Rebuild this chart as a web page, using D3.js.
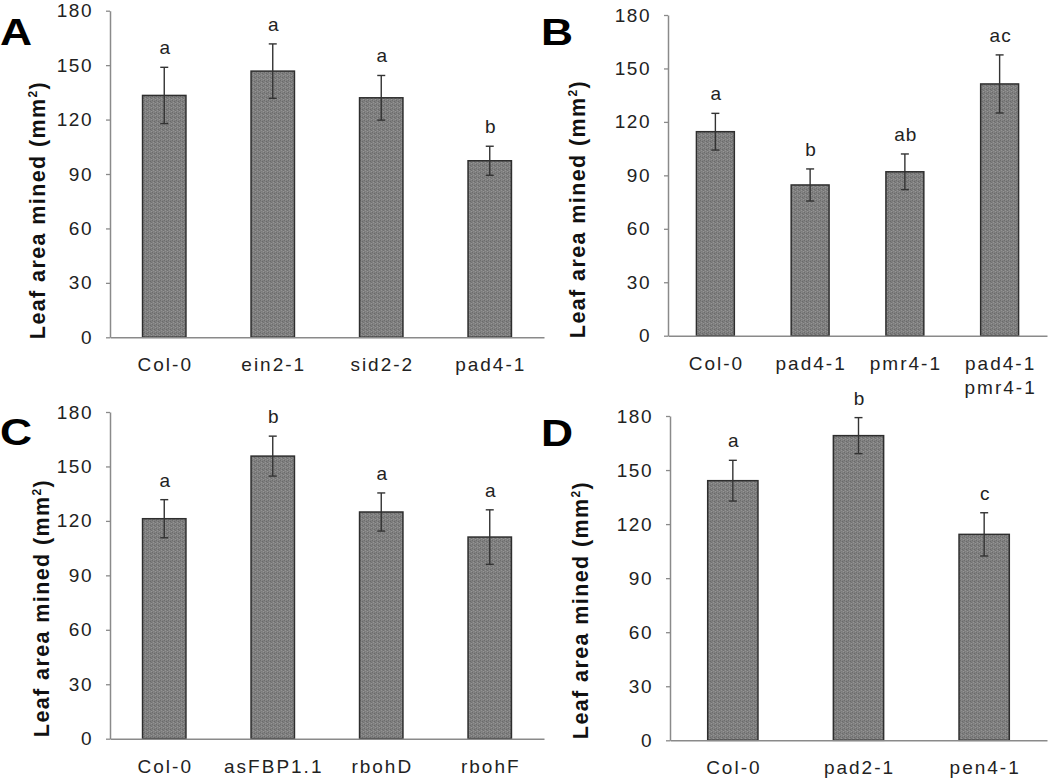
<!DOCTYPE html>
<html><head><meta charset="utf-8">
<script src="https://cdn.jsdelivr.net/npm/d3@7"></script>
<style>
html,body{margin:0;padding:0;background:#fff;}
svg{display:block;}
text{font-family:"Liberation Sans",Arial,sans-serif;}
</style></head>
<body>
<svg id="chart" width="1050" height="783"></svg>
<script>
// ---- data ----
const yTicks = [0, 30, 60, 90, 120, 150, 180];
const yLabel = "Leaf area mined (mm";

const catsA = ["Col-0", "ein2-1", "sid2-2", "pad4-1"];
const valsA = [133.3, 146.7, 132.0, 97.3];
const errsA = [15.5, 15.0, 12.3, 8.0];
const letsA = ["a", "a", "a", "b"];

const catsB = ["Col-0", "pad4-1", "pmr4-1", "pad4-1\npmr4-1"];
const valsB = [114.5, 84.6, 92.0, 141.3];
const errsB = [10.3, 9.0, 10.0, 16.3];
const letsB = ["a", "b", "ab", "ac"];

const catsC = ["Col-0", "asFBP1.1", "rbohD", "rbohF"];
const valsC = [121.2, 155.7, 124.9, 111.1];
const errsC = [10.5, 11.0, 10.5, 15.0];
const letsC = ["a", "b", "a", "a"];

const catsD = ["Col-0", "pad2-1", "pen4-1"];
const valsD = [144.1, 169.1, 114.3];
const errsD = [11.3, 10.0, 12.0];
const letsD = ["a", "b", "c"];

// ---- layout ----
const svg = d3.select("#chart");
const defs = svg.append("defs");
const pat = defs.append("pattern").attr("id", "tex").attr("width", 4).attr("height", 4)
  .attr("patternUnits", "userSpaceOnUse");
pat.append("rect").attr("width", 4).attr("height", 4).attr("fill", "#7f7f7f");
[[0,0,"#6c6c6c"],[2,1,"#6a6a6a"],[1,2,"#949494"],[3,3,"#969696"],[1,0,"#8a8a8a"],[3,2,"#717171"]]
  .forEach(([x,y,c]) => pat.append("rect").attr("x", x).attr("y", y).attr("width", 1).attr("height", 1).attr("fill", c));

const panels = [
  {tag:"A", cats:catsA, vals:valsA, errs:errsA, lets:letsA, left:110, right:544, top:10.7, bottom:337.3, tagX:0, tagY:45, labX:45, labY:210},
  {tag:"B", cats:catsB, vals:valsB, errs:errsB, lets:letsB, left:668, right:1047, top:15, bottom:335.7, tagX:541, tagY:45, labX:585, labY:209},
  {tag:"C", cats:catsC, vals:valsC, errs:errsC, lets:letsC, left:110, right:544, top:412, bottom:738.7, tagX:0, tagY:445, labX:49, labY:608},
  {tag:"D", cats:catsD, vals:valsD, errs:errsD, lets:letsD, left:670, right:1047, top:416, bottom:740.3, tagX:541, tagY:446, labX:588, labY:610}
];

panels.forEach(p => {
  const g = svg.append("g");
  const y = d3.scaleLinear().domain([0, 180]).range([p.bottom, p.top]);
  const x = d3.scaleBand().domain(p.cats).range([p.left, p.right]).paddingInner(0.6).paddingOuter(0.3);

  // y axis
  const ya = g.append("g").attr("transform", `translate(${p.left},0)`)
    .call(d3.axisLeft(y).tickValues(yTicks).tickSize(4).tickSizeOuter(0).tickPadding(13));
  ya.select(".domain").attr("stroke", "#8a8a8a").attr("stroke-width", 1.5);
  ya.selectAll(".tick line").attr("stroke", "#8a8a8a").attr("stroke-width", 1.3);
  ya.selectAll(".tick text").attr("fill", "#222").attr("font-size", 19)
    .style("letter-spacing", "1.5px").attr("font-family", "Liberation Sans, Arial, sans-serif");

  // bars
  g.selectAll("rect.bar").data(p.vals).enter().append("rect").attr("class", "bar")
    .attr("x", (d, i) => x(p.cats[i]))
    .attr("y", d => y(d))
    .attr("width", x.bandwidth())
    .attr("height", d => y(0) - y(d))
    .attr("fill", "url(#tex)").attr("stroke", "#2e2e2e").attr("stroke-width", 1.5);

  // x axis
  const xa = g.append("g").attr("transform", `translate(0,${p.bottom})`)
    .call(d3.axisBottom(x).tickSize(0).tickSizeOuter(0).tickFormat(""));
  xa.select(".domain").attr("stroke", "#8a8a8a").attr("stroke-width", 1.5);

  // x labels
  p.cats.forEach(c => {
    const t = g.append("text").attr("text-anchor", "middle").attr("font-size", 19)
      .attr("fill", "#222").style("letter-spacing", "2px");
    c.split("\n").forEach((line, li) => {
      t.append("tspan").attr("x", x(c) + x.bandwidth() / 2 + 1).attr("y", p.bottom + 34 + li * 24).text(line);
    });
  });

  // error bars
  p.vals.forEach((v, i) => {
    const cx = x(p.cats[i]) + x.bandwidth() / 2;
    const e = p.errs[i];
    const eg = g.append("g").attr("stroke", "#333").attr("stroke-width", 1.4);
    eg.append("line").attr("x1", cx).attr("x2", cx).attr("y1", y(v + e)).attr("y2", y(v - e));
    eg.append("line").attr("x1", cx - 4).attr("x2", cx + 4).attr("y1", y(v + e)).attr("y2", y(v + e));
    eg.append("line").attr("x1", cx - 4).attr("x2", cx + 4).attr("y1", y(v - e)).attr("y2", y(v - e));
    g.append("text").attr("x", cx + 1).attr("y", y(v + e) - 13).attr("text-anchor", "middle")
      .attr("font-size", 19).attr("fill", "#222").style("letter-spacing", "1px").text(p.lets[i]);
  });

  // y label
  const yl = g.append("text").attr("transform", `translate(${p.labX},${p.labY}) rotate(-90)`)
    .attr("text-anchor", "middle").attr("font-size", 21.5).attr("font-weight", "bold")
    .attr("fill", "#111").style("letter-spacing", "1.4px").text(yLabel);
  yl.append("tspan").attr("font-size", 12).attr("dy", -8).text("2");
  yl.append("tspan").attr("dy", 8).text(")");

  // panel tag
  g.append("text").attr("transform", `translate(${p.tagX},${p.tagY}) scale(1.2,1)`)
    .attr("font-size", 37).attr("font-weight", "bold")
    .attr("fill", "#000").text(p.tag);
});
</script>
</body></html>
